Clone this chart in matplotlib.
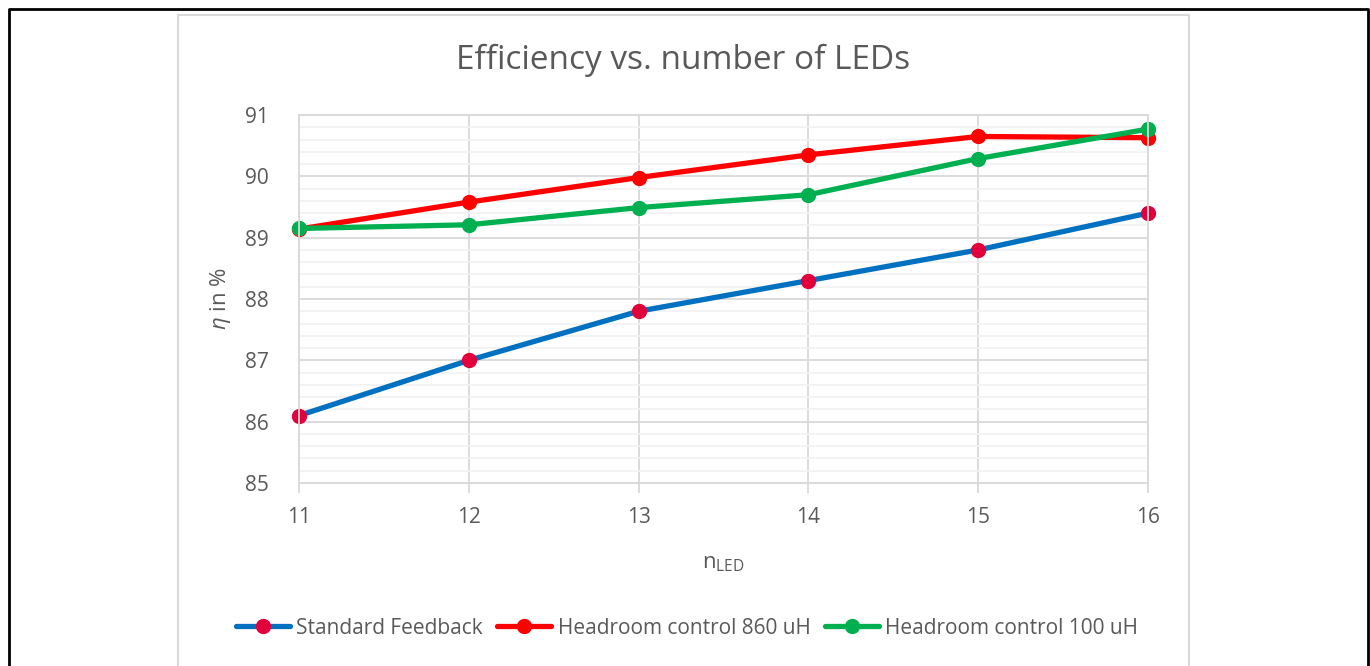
import matplotlib
matplotlib.use("Agg")
import matplotlib.pyplot as plt
from matplotlib.lines import Line2D
from matplotlib.patches import Rectangle
from matplotlib.ticker import MultipleLocator

plt.rcParams['font.family'] = ['Open Sans', 'DejaVu Sans']
plt.rcParams['mathtext.fontset'] = 'custom'
plt.rcParams['mathtext.it'] = 'Open Sans:italic'
plt.rcParams['mathtext.rm'] = 'Open Sans'

n_led = [11, 12, 13, 14, 15, 16]
standard_fb = [86.1, 87.0, 87.8, 88.3, 88.8, 89.4]
headroom_860 = [89.14, 89.58, 89.98, 90.35, 90.65, 90.63]
headroom_100 = [89.15, 89.21, 89.49, 89.70, 90.29, 90.77]

txt = '#595959'

fig = plt.figure(figsize=(13.7, 6.66), dpi=100)
ax = fig.add_axes([299/1370, 1-483/666, (1148-299)/1370, (483-115)/666])

ax.plot(n_led, standard_fb, color='#0070C0', lw=3.8, marker='o', ms=10, clip_on=False,
        mfc='#E2003C', mec='#E2003C', label='Standard Feedback', solid_capstyle='round')
ax.plot(n_led, headroom_860, color='#FF0000', lw=3.8, marker='o', ms=10, clip_on=False,
        mfc='#FF0000', mec='#FF0000', label='Headroom control 860 uH', solid_capstyle='round')
ax.plot(n_led, headroom_100, color='#00B050', lw=3.8, marker='o', ms=10, clip_on=False,
        mfc='#00B050', mec='#00B050', label='Headroom control 100 uH', solid_capstyle='round')

ax.set_xlim(11, 16)
ax.set_ylim(85, 91)
ax.xaxis.set_major_locator(MultipleLocator(1))
ax.yaxis.set_major_locator(MultipleLocator(1))
ax.yaxis.set_minor_locator(MultipleLocator(0.2))
ax.grid(which='major', color='#D9D9D9', lw=1.3, zorder=0)
ax.grid(which='minor', axis='y', color='#F2F2F2', lw=1.3, zorder=0)
ax.set_axisbelow(True)
for s in ax.spines.values():
    s.set_color('#D9D9D9')
    s.set_linewidth(1.3)
ax.tick_params(axis='x', which='major', length=7, width=1.3, color='#D9D9D9',
               labelsize=15, labelcolor=txt, pad=10)
ax.tick_params(axis='y', which='both', length=0, labelsize=15, labelcolor=txt, pad=22)

fig.text(683.5/1370, 1-60/666, 'Efficiency vs. number of LEDs', fontsize=24, color=txt,
         ha='center', va='center')
ax.set_xlabel(r'n$_{\mathrm{LED}}$', fontsize=16, color=txt, labelpad=18)
ax.set_ylabel(r'$\eta$ in %', fontsize=16, color=txt, labelpad=8)

ax.legend(loc='center', bbox_to_anchor=(687/1370, 1-628/666), bbox_transform=fig.transFigure,
          ncol=3, frameon=False, fontsize=15, labelcolor=txt, handlelength=2.6,
          handletextpad=0.3, columnspacing=0.7)

# chart area border and outer frame
fig.patches.append(Rectangle((178/1370, -0.01), (1189-178)/1370, 1-15/666+0.01,
                             transform=fig.transFigure, fill=False,
                             edgecolor='#D9D9D9', lw=1.5))
fig.lines.append(Line2D([9/1370, 9/1370, 1368/1370, 1368/1370],
                        [-0.01, 1-9/666, 1-9/666, -0.01],
                        transform=fig.transFigure, color='black', lw=2))

fig.savefig('out.png', dpi=100)
